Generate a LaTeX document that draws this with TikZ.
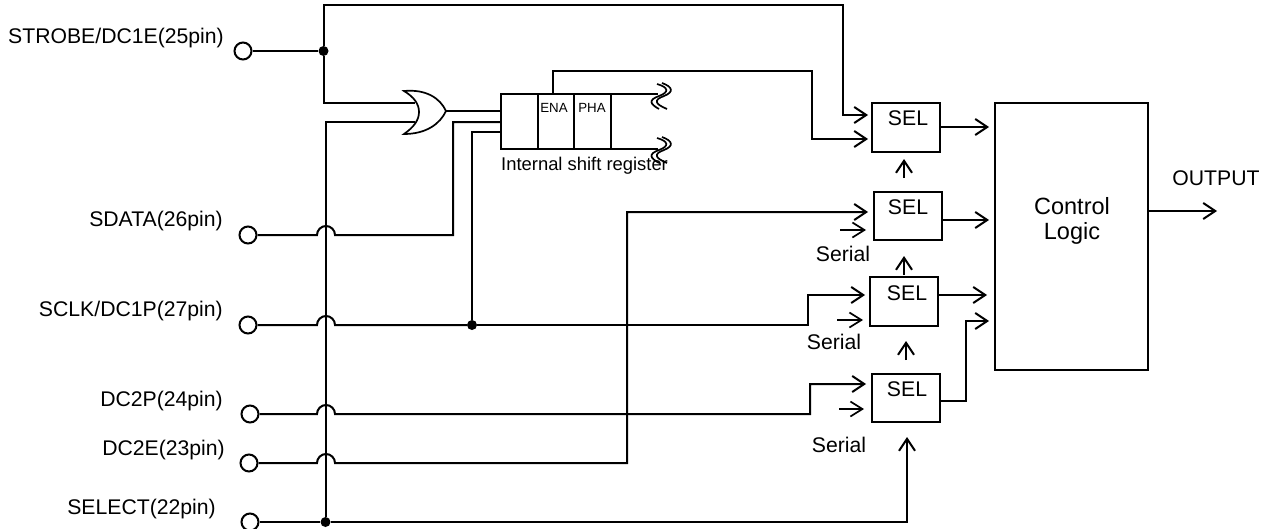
\documentclass[tikz,border=0pt]{standalone}
\usepackage{fontspec}
\setmainfont{Liberation Sans}
\usetikzlibrary{arrows.meta}
\tikzset{
  wire/.style={line width=2pt,line join=miter},
  arr/.style={wire,-{Straight Barb[length=12pt,width=16pt,line width=2pt]}},
  thin arr/.style={line width=1.7pt,-{Straight Barb[length=12pt,width=15pt,line width=1.7pt]}},
  pin/.style={circle,draw,line width=2pt,minimum size=17pt,inner sep=0pt,fill=white},
  dot/.style={circle,fill=black,minimum size=10pt,inner sep=0pt},
  selbox/.style={draw,line width=2pt,minimum width=68pt,minimum height=48.5pt,inner sep=0pt},
  cell/.style={draw,line width=2pt,inner sep=0pt,minimum height=55pt},
  txt/.style={font=\fontsize{21.2}{24}\selectfont,inner sep=0pt},
  lab/.style={txt,anchor=east},
  ctext/.style={txt,anchor=center},
  big/.style={font=\fontsize{23.5}{26}\selectfont,inner sep=0pt,anchor=center},
  small/.style={font=\fontsize{13.3}{15}\selectfont,inner sep=0pt,anchor=center},
  wave/.style={line width=1.7pt},
}
\begin{document}
\begin{tikzpicture}[x=1pt,y=-1pt]
\useasboundingbox (0,0) rectangle (1273,528);
% pins
\node[pin] (p25) at (243,51) {};
\node[pin] (p26) at (248,235) {};
\node[pin] (p27) at (248,325) {};
\node[pin] (p24) at (250,414) {};
\node[pin] (p23) at (249,463) {};
\node[pin] (p22) at (250,522) {};
\node[lab] (l25) at (224,38) {STROBE/DC1E(25pin)};
\node[lab] (l26) at (223,221) {SDATA(26pin)};
\node[lab] (l27) at (223,311) {SCLK/DC1P(27pin)};
\node[lab] (l24) at (223,401) {DC2P(24pin)};
\node[lab] (l23) at (225,450) {DC2E(23pin)};
\node[lab] (l22) at (216,509) {SELECT(22pin)};
% junctions
\node[dot] (j25) at (323.5,51) {};
\node[dot] (j22) at (325.5,522) {};
\node[dot] (j27) at (472,325) {};
% register
\node[cell,minimum width=37pt] (rA) at (519.5,121.5) {};
\node[cell,minimum width=36pt] (rE) at (556,121.5) {};
\node[cell,minimum width=37pt] (rP) at (592.5,121.5) {};
\node[small] (tE) at (554,108) {ENA};
\node[small] (tP) at (592,108) {PHA};
\node[txt,anchor=west,font=\fontsize{18.4}{20}\selectfont] (tR) at (501,166) {Internal shift register};
% SEL boxes
\node[selbox] (s1) at (906,127.5) {};
\node[selbox] (s2) at (908,216) {};
\node[selbox] (s3) at (904,301.5) {};
\node[selbox] (s4) at (906,398) {};
\node[ctext] (ts1) at (908,118) {SEL};
\node[ctext] (ts2) at (908,207) {SEL};
\node[ctext] (ts3) at (907,293) {SEL};
\node[ctext] (ts4) at (907,389) {SEL};
\node[ctext] (ser2) at (843,254) {Serial};
\node[ctext] (ser3) at (834,342) {Serial};
\node[ctext] (ser4) at (839,445) {Serial};
% control
\node[draw,line width=2pt,minimum width=153pt,minimum height=267pt,inner sep=0pt] (ctl) at (1071.5,236.5) {};
\node[big] (tc1) at (1072,206) {Control};
\node[big] (tc2) at (1072,233) {Logic};
\node[ctext] (tout) at (1216,178) {OUTPUT};
% free ends and tips
\coordinate (t1a) at (868,115);
\coordinate (t1b) at (868,139);
\coordinate (t2a) at (868,212);
\coordinate (t3a) at (865,295);
\coordinate (t4a) at (866,384);
\coordinate (ct1) at (989,127);
\coordinate (ct2) at (989,220);
\coordinate (ct3) at (987,295);
\coordinate (ct4) at (989,321);
\coordinate (outtip) at (1217,211);
% OR gate
\draw[wire,line width=1.7pt] (404,91)
  .. controls (426,89) and (440,98) .. (446,111)
  .. controls (440,124) and (426,134) .. (404,134)
  .. controls (414,127) and (419,120) .. (419,112)
  .. controls (419,104) and (414,97) .. (404,91) -- cycle;
\coordinate (orA) at (415,103);
\coordinate (orB) at (415,122);
\coordinate (orOut) at (446,111);
% strobe
\draw[wire] (p25.east) -- (j25);
\draw[arr] (j25) -- (323.5,5) -- (843,5) |- (t1a);
\draw[wire] (j25) |- (orA);
\draw[wire] (j22) -- (325.5,122) -- (orB);
\draw[wire] (orOut) -- (orOut -| rA.west);
% sdata
\coordinate (rIn2) at (501,122);
\coordinate (rIn3) at (501,132);
\draw[wire] (p26.east) -- (317,235) arc[start angle=180,end angle=0,radius=9pt] -- (453,235) |- (rIn2);
\draw[wire] (p27.east) -- (317,325) arc[start angle=180,end angle=0,radius=9pt] -- (j27);
\draw[wire] (j27) |- (rIn3);
\draw[arr] (j27) -- (808,325) -- (808,295) -- (t3a);
\draw[arr] (p24.east) -- (317,414) arc[start angle=180,end angle=0,radius=9pt] -- (810,414) -- (810,384) -- (t4a);
\draw[arr] (p23.east) -- (317,463) arc[start angle=180,end angle=0,radius=9pt] -- (627,463) -- (627,212) -- (t2a);
\draw[wire] (p22.east) -- (j22);
\draw[arr] (j22) -- (907,522) -- (907,437);
% ENA
\draw[arr] (553,94) -- (553,71) -- (812,71) |- (t1b);
% register tails
\coordinate (w1) at (658,94);
\coordinate (w2) at (658,149);
\draw[wire] (rP.east |- w1) -- (w1);
\draw[wire] (rP.east |- w2) -- (w2);
\foreach \dy in {0,54}{
  \draw[wave,yshift=-\dy pt] (657,84) .. controls (668,87) and (670,92) .. (659,96) .. controls (648,100) and (650,104) .. (659,109);
  \draw[wave,yshift=-\dy pt] (662,83) .. controls (673,87) and (674,92) .. (664,96) .. controls (653,100) and (655,104) .. (667,109);
}
% SEL arrows
\draw[thin arr] (840,230) -- (866,230);
\draw[thin arr] (837,320) -- (863,320);
\draw[thin arr] (839,409) -- (864,409);
\draw[arr] (904,178) -- (904,159);
\draw[arr] (904,275) -- (904,256);
\draw[arr] (906,360) -- (906,341);
\draw[arr] (s1.east |- ct1) -- (ct1);
\draw[arr] (942,220) -- (ct2);
\draw[arr] (s3.east |- ct3) -- (ct3);
\draw[arr] (940,401) -- (966,401) |- (ct4);
\draw[arr] (ctl.east |- outtip) -- (outtip);
\end{tikzpicture}
\end{document}
